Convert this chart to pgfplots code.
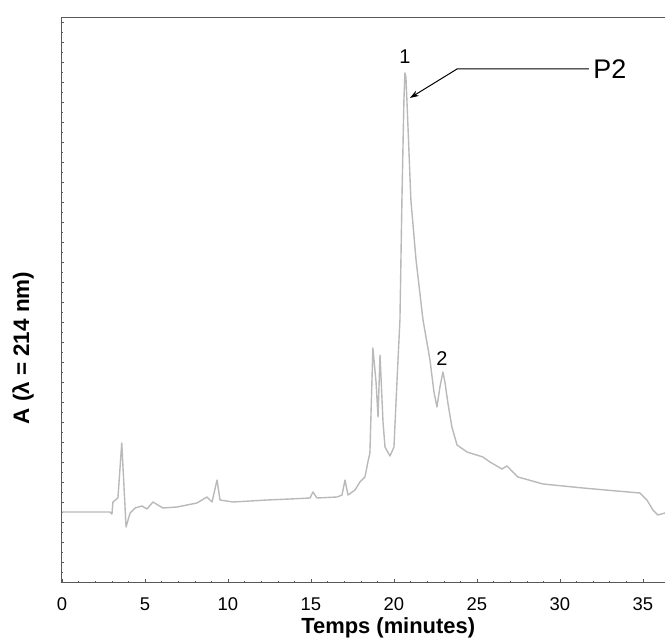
\documentclass[border=0pt]{standalone}
\usepackage{fontspec}
\setmainfont{Liberation Sans}
\usepackage{pgfplots}
\pgfplotsset{compat=1.18}
\usetikzlibrary{arrows.meta}

\begin{document}
\begin{tikzpicture}
% page = 665 x 641 bp, axis box lower left at (0,0)
\path[use as bounding box] (-61bp,-59bp) rectangle (604bp,582bp);
\begin{axis}[
    at={(0,0)}, anchor=south west,
    width=606bp, height=565bp, scale only axis,
    xmin=-0.06, xmax=36.45,
    ymin=0, ymax=565,
    xtick={0,5,...,35},
    minor x tick num=4,
    ytick={0,20,...,560}, yticklabels={},
    minor y tick num=1,
    xtick pos=bottom, ytick pos=left,
    tick align=inside,
    major tick length=3bp, minor tick length=1.5bp,
    tick style={gray!70!black, line width=0.5pt},
    axis line style={gray!70!black, line width=0.8pt},
    /pgf/number format/assume math mode=true,
    xticklabel style={font=\fontsize{18.5}{22}\selectfont, yshift=-12bp},
    xlabel={\textbf{Temps (minutes)}},
    xlabel style={font=\fontsize{22}{26}\selectfont, at={(rel axis cs:0.54,0)}, anchor=base, yshift=-51bp},
    ylabel={\textbf{A (λ = 214 nm)}},
    ylabel style={font=\fontsize{22.5}{27}\selectfont, at={(rel axis cs:0,0.414)}, anchor=center, yshift=38bp},
]

% chromatogram trace
\addplot[gray!55, line width=1.4pt, line join=round] coordinates {
(0.00,70) (2.89,70) (3.01,68) (3.07,80) (3.37,84) (3.60,139) (3.86,55)
(4.10,69) (4.40,74) (4.82,76) (5.12,73) (5.48,80) (6.08,74) (6.93,75)
(8.13,79) (8.73,85) (9.04,80) (9.34,102) (9.52,82) (10.30,80) (12.35,82)
(13.73,83) (14.94,84) (15.12,90) (15.36,84) (16.57,85) (16.87,87) (17.05,102)
(17.23,87) (17.65,92) (17.95,100) (18.25,105) (18.43,120) (18.55,129)
(18.73,234) (18.92,200) (19.04,165) (19.16,227) (19.34,160) (19.46,135)
(19.76,126) (20.00,135) (20.18,200) (20.36,262) (20.48,382) (20.60,482)
(20.66,509) (20.72,505) (20.78,482) (21.02,382) (21.33,322) (21.75,262)
(22.17,222) (22.41,190) (22.59,175) (22.77,195) (22.95,210) (23.07,200)
(23.25,179) (23.49,155) (23.80,137) (24.40,130) (25.36,125) (25.78,120)
(26.51,113) (26.81,116) (27.47,105) (28.98,98) (31.39,94) (33.43,91)
(34.82,89) (35.24,82) (35.60,72) (35.90,67) (36.33,69)
};

% peak labels and annotation
\node[font=\fontsize{20}{24}\selectfont] at (axis cs:20.66,525) {1};
\node[font=\fontsize{20}{24}\selectfont] at (axis cs:22.89,223) {2};
\draw[black, line width=1pt, -{Stealth[length=9bp,width=6bp]}]
    (axis cs:31.75,513) -- (axis cs:23.80,513) -- (axis cs:20.96,484);
\node[font=\fontsize{27}{32}\selectfont, anchor=west, inner sep=0pt] at (axis cs:32.0,513) {P2};

\end{axis}
\end{tikzpicture}
\end{document}
